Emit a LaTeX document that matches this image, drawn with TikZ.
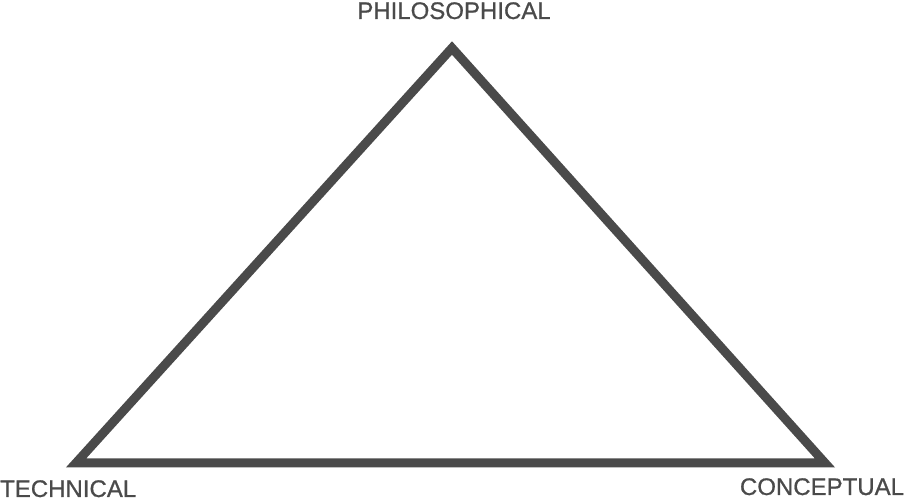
\documentclass[tikz,border=0pt]{standalone}
\usepackage{fontspec}
\setmainfont{Liberation Sans}
\newfontfamily\lblfont[FakeBold=0.8]{Liberation Sans}
\definecolor{tri}{HTML}{4A4A4A}
\begin{document}
\begin{tikzpicture}[x=1pt,y=-1pt,
  lbl/.style={text=tri,inner sep=0pt,font=\lblfont\fontsize{24}{24}\selectfont},
  edge/.style={draw=tri,line width=9pt,line join=miter}]
\useasboundingbox (0,0) rectangle (914,502);
\coordinate (top) at (452,48);
\coordinate (left) at (76,463);
\coordinate (right) at (825,463);
\draw[edge] (left) -- (top) -- (right) -- cycle;
\node[lbl,anchor=base] (phil) at (454,19) {PHILOSOPHICAL};
\node[lbl,anchor=base west] (tech) at (0,497) {TECHNICAL};
\node[lbl,anchor=base] (conc) at (822,495) {CONCEPTUAL};
\end{tikzpicture}
\end{document}
